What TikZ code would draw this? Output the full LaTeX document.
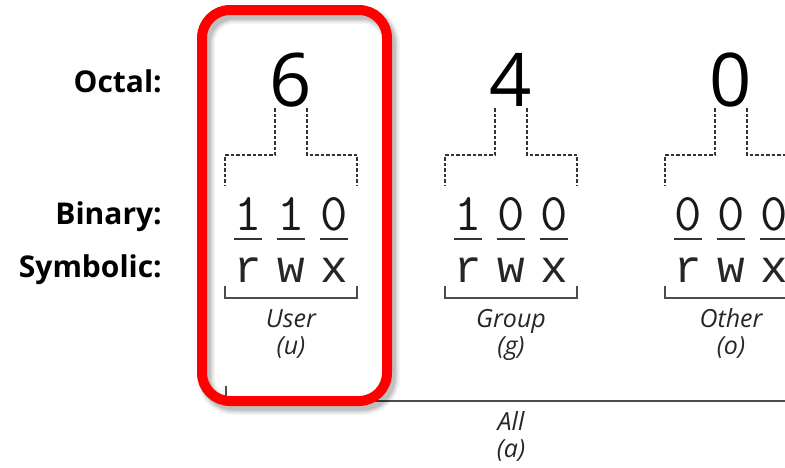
\documentclass[tikz,border=0pt]{standalone}
\usepackage{fontspec}
\setmainfont{Open Sans}
\newfontfamily\monof{Liberation Mono}
\tikzset{
  lab/.style={font=\fontsize{30}{32}\selectfont\bfseries, anchor=base east, inner sep=0pt},
  octd/.style={font=\fontsize{74}{80}\selectfont, anchor=base, inner sep=0pt},
  bind/.style={font=\ttfamily\fontsize{53}{56}\selectfont, anchor=base, inner sep=0pt, text=black!90},
  symd/.style={font=\monof\fontsize{46}{50}\selectfont, anchor=base, inner sep=0pt, text=black!85},
  who/.style={font=\fontsize{25}{28}\selectfont\itshape, anchor=base, inner sep=0pt, text=black!85},
  dashln/.style={dash pattern=on 3.5pt off 2pt, line width=1.4pt, draw=black!80},
  brk/.style={line width=1.6pt, draw=black!70},
  uline/.style={line width=2.8pt, draw=black!80},
  redbox/.style={draw=red, line width=10pt, rounded corners=28pt},
  shade/.style={draw=black, rounded corners=28pt},
}
\begin{document}
\begin{tikzpicture}[x=1pt,y=-1pt]
\useasboundingbox (0,0) rectangle (785,467);
% row labels
\node[lab] (loct) at (162,92) {Octal:};
\node[lab] (lbin) at (162,224) {Binary:};
\node[lab] (lsym) at (162,277) {Symbolic:};
% columns
\foreach \n/\c/\o/\na/\nb/\bi/\bii/\biii in {1/291/6/User/u/1/1/0, 2/511/4/Group/g/1/0/0, 3/731/0/Other/o/0/0/0}{
  \node[octd] (oct\n) at (\c,106) {\o};
  \draw[dashln] (\c-16,108) -- (\c-16,155) -- (\c-66,155) -- (\c-66,186);
  \draw[dashln] (\c+16,108) -- (\c+16,155) -- (\c+66,155) -- (\c+66,186);
  \node[bind] (bA\n) at (\c-43,230) {\bi};
  \node[bind] (bB\n) at (\c,230) {\bii};
  \node[bind] (bC\n) at (\c+43,230) {\biii};
  \foreach \d in {-43,0,43}{
    \draw[uline] (\c+\d-14,239) -- (\c+\d+14,239);
  }
  \node[symd] (sA\n) at (\c-43,282) {r};
  \node[symd] (sB\n) at (\c,282) {w};
  \node[symd] (sC\n) at (\c+43,282) {x};
  \draw[brk] (\c-66,286) -- (\c-66,298) -- (\c+66,298) -- (\c+66,286);
  \node[who] (wa\n) at (\c,327) {\na};
  \node[who] (wb\n) at (\c,354) {(\nb)};
}
% all
\draw[brk] (226,386) -- (226,401) -- (796,401) -- (796,386);
\node[who] (alla) at (511,430) {All};
\node[who] (allb) at (511,457) {(a)};
% red box with shadow
\foreach \w/\op in {18/0.04,15/0.06,12/0.08,9/0.1}{
  \draw[shade, line width=\w pt, opacity=\op] (206,15) rectangle (391,406);
}
\draw[redbox] (202,10) rectangle (387,401);
\end{tikzpicture}
\end{document}
